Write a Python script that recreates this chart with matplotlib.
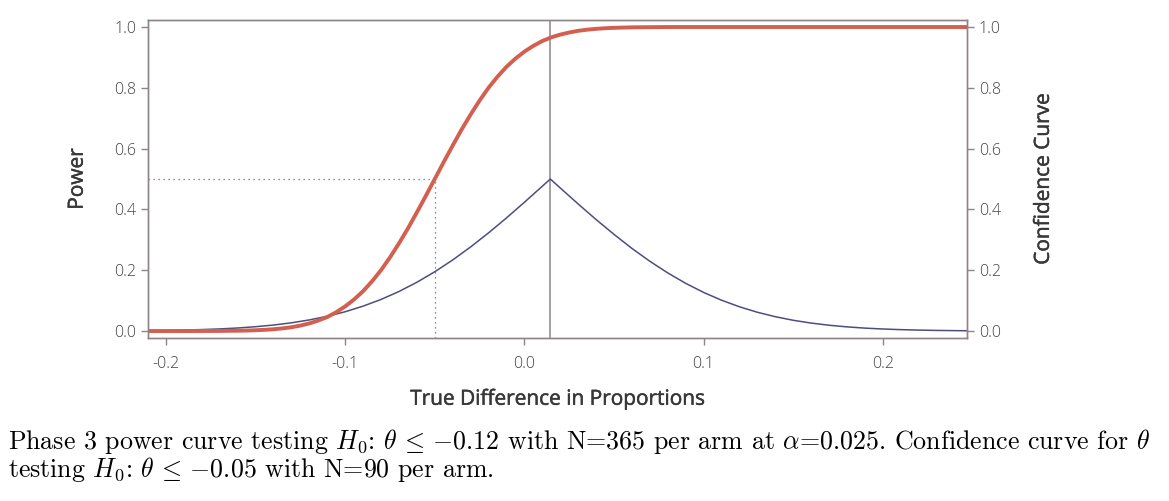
import matplotlib
matplotlib.use("Agg")
import matplotlib.pyplot as plt
import matplotlib.patheffects as pe

plt.rcParams["axes.unicode_minus"] = False
plt.rcParams["mathtext.fontset"] = "cm"

# values
diff = [-0.21, -0.20, -0.19, -0.18, -0.17, -0.16, -0.155, -0.15, -0.145, -0.14,
        -0.135, -0.13, -0.125, -0.12, -0.115, -0.11, -0.105, -0.10, -0.095, -0.09,
        -0.085, -0.08, -0.075, -0.07, -0.065, -0.06, -0.055, -0.05, -0.045, -0.04,
        -0.035, -0.03, -0.025, -0.02, -0.015, -0.01, -0.005, 0.00, 0.005, 0.01,
        0.015, 0.02, 0.025, 0.03, 0.035, 0.04, 0.045, 0.05, 0.06, 0.07,
        0.08, 0.10, 0.15, 0.20, 0.25]
power = [0.0000, 0.0000, 0.0000, 0.0001, 0.0004, 0.0010, 0.0016, 0.0026, 0.0039, 0.0059,
         0.0087, 0.0125, 0.0179, 0.025, 0.0344, 0.046, 0.0618, 0.081, 0.1038, 0.131,
         0.1635, 0.200, 0.242, 0.288, 0.3372, 0.390, 0.4443, 0.500, 0.5557, 0.610,
         0.6628, 0.712, 0.758, 0.800, 0.8365, 0.869, 0.896, 0.919, 0.938, 0.954,
         0.966, 0.975, 0.982, 0.9875, 0.9913, 0.994, 0.996, 0.9974, 0.999, 0.9996,
         1.0, 1.0, 1.0, 1.0, 1.0]

conf_x = [-0.21, -0.20, -0.19, -0.18, -0.17, -0.16, -0.15, -0.14, -0.13, -0.12,
          -0.11, -0.10, -0.09, -0.08, -0.07, -0.06, -0.05, -0.04, -0.03, -0.02,
          -0.01, 0.00, 0.0145, 0.02, 0.03, 0.04, 0.05, 0.06, 0.07, 0.08,
          0.09, 0.10, 0.11, 0.12, 0.13, 0.14, 0.15, 0.16, 0.17, 0.18,
          0.19, 0.20, 0.21, 0.22, 0.23, 0.24, 0.25]
conf_y = [0.0014, 0.0021, 0.0032, 0.0048, 0.0069, 0.0100, 0.0142, 0.0197, 0.0270, 0.0365,
          0.0485, 0.0634, 0.0818, 0.1038, 0.1299, 0.1603, 0.1949, 0.2337, 0.2765, 0.3228,
          0.3719, 0.4234, 0.5, 0.4708, 0.4181, 0.3669, 0.3181, 0.2719, 0.2296, 0.1913,
          0.1570, 0.1271, 0.1015, 0.0798, 0.0618, 0.0472, 0.0354, 0.0262, 0.0191, 0.0137,
          0.0096, 0.0067, 0.0046, 0.0031, 0.0020, 0.0013, 0.0008]

estimate = 0.0145
half_power_x = -0.05

y_ticks = [0.0, 0.2, 0.4, 0.6, 0.8, 1.0]
x_ticks = [-0.2, -0.1, 0.0, 0.1, 0.2]
x_labels = ["-0.2", "-0.1", "0.0", "0.1", "0.2"]

caption = ("Phase 3 power curve testing $H_0$: $\\theta\\,\\leq\\,{-}0.12$ with N=365 per arm "
           "at $\\alpha$=0.025. Confidence curve for $\\theta$\n"
           "testing $H_0$: $\\theta\\,\\leq\\,{-}0.05$ with N=90 per arm.")

frame = "#8f8488"
tick_col = "#444444"
label_col = "#383838"
red = "#d25f4f"
blue = "#4d4d80"

fig = plt.figure(figsize=(11.69, 5.01), dpi=100)
ax = fig.add_axes([0.1266, 0.3253, 0.7006, 0.6347])
ax.set_xlim(-0.21, 0.247)
ax.set_ylim(-0.023, 1.023)

ax.plot([ax.get_xlim()[0], half_power_x], [0.5, 0.5], color="#666666", lw=0.9, ls=(0, (1, 3)))
ax.plot([half_power_x, half_power_x], [ax.get_ylim()[0], 0.5], color="#666666", lw=0.9, ls=(0, (1, 3)))
ax.axvline(estimate, color=frame, lw=1.1)
ax.plot(conf_x, conf_y, color=blue, lw=1.1)
ax.plot(diff, power, color=red, lw=2.8, solid_capstyle="butt")

ax2 = ax.twinx()
ax2.set_ylim(ax.get_ylim())

for a in (ax, ax2):
    for s in a.spines.values():
        s.set_color(frame)
        s.set_linewidth(1.0)
    a.set_yticks(y_ticks)
    a.set_yticklabels([f"{v:.1f}" for v in y_ticks])
    a.tick_params(colors=frame, labelcolor=tick_col, length=5, width=1)
    for lab in a.get_yticklabels():
        lab.set_fontfamily("Open Sans")
        lab.set_fontweight("light")
        lab.set_fontsize(11.5)

ax.set_xticks(x_ticks)
ax.set_xticklabels(x_labels, fontfamily="Open Sans", fontweight="light", fontsize=11.5)
ax.tick_params(axis="x", pad=8)

# regular weight, slightly thickened to look like a medium cut
thick = [pe.withStroke(linewidth=0.35, foreground=label_col)]
lab_kw = dict(fontfamily="Open Sans", fontsize=15, color=label_col, path_effects=thick)
ax.set_ylabel("Power", labelpad=19, **lab_kw)
ax2.set_ylabel("Confidence Curve", labelpad=23, **lab_kw)
ax.set_xlabel("True Difference in Proportions", labelpad=12, **lab_kw)

fig.text(0.007, 0.148, caption, fontfamily="cmr10", fontsize=18.65, va="top", ha="left",
         linespacing=0.95)

fig.savefig("out.png", dpi=100)
